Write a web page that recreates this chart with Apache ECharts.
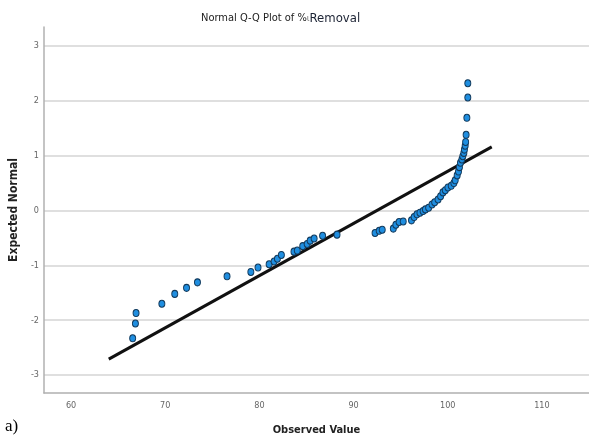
<!DOCTYPE html>
<html>
<head>
<meta charset="utf-8">
<script src="https://cdn.jsdelivr.net/npm/echarts@6/dist/echarts.min.js"></script>
<style>
html,body{margin:0;padding:0;background:#fff;}
#c{width:589px;height:441px;}
</style>
</head>
<body>
<div id="c"></div>
<script>
var observed = [66.54,66.83,66.90,69.64,71.01,72.26,73.42,76.56,79.09,79.85,81.03,81.56,81.91,82.33,83.67,84.02,84.60,85.07,85.39,85.81,86.71,88.24,
  92.28,92.72,93.04,94.22,94.49,94.83,95.27,96.15,96.43,96.73,97.05,97.38,97.63,97.97,98.33,98.61,98.97,99.24,99.49,99.74,100.02,100.37,100.65,100.79,
  101.00,101.14,101.24,101.35,101.50,101.60,101.71,101.77,101.85,101.90,101.95,102.03,102.13,102.13];
var expected = [-2.33,-2.06,-1.87,-1.70,-1.52,-1.41,-1.31,-1.20,-1.12,-1.04,-0.98,-0.93,-0.88,-0.81,-0.75,-0.73,-0.65,-0.61,-0.55,-0.51,-0.46,-0.44,
  -0.41,-0.37,-0.35,-0.33,-0.26,-0.21,-0.20,-0.18,-0.12,-0.07,-0.04,-0.01,0.02,0.05,0.11,0.15,0.20,0.26,0.33,0.37,0.42,0.45,0.50,0.55,
  0.64,0.71,0.79,0.87,0.93,0.99,1.05,1.11,1.18,1.25,1.38,1.69,2.06,2.32];
// Reference line end points
var lineX = [64.0, 104.67];
var lineY = [-2.71, 1.16];
// Tick labels
var xTicks = [60,70,80,90,100,110];
var yTicks = [-3,-2,-1,0,1,2,3];

var narrow = "'Liberation Sans Narrow','DejaVu Sans Condensed','Liberation Sans',sans-serif";
var points = observed.map(function(v,i){return [v, expected[i]];});
var linePts = lineX.map(function(v,i){return [v, lineY[i]];});

var chart = echarts.init(document.getElementById('c'), null, {renderer:'canvas'});
chart.setOption({
  animation:false,
  backgroundColor:'#ffffff',
  title:{
    text:'{a|Normal Q-Q Plot of %}{b|ι}{c|Removal}',
    left:196, top:7,
    textStyle:{
      fontWeight:'normal',
      rich:{
        a:{fontFamily:narrow, fontSize:11, fontWeight:'normal', color:'#222'},
        b:{fontFamily:narrow, fontSize:9, fontWeight:'normal', color:'#777'},
        c:{fontFamily:narrow, fontSize:13, fontWeight:'normal', color:'#1b2233'}
      }
    }
  },
  grid:{left:40, right:0, top:27, bottom:47},
  xAxis:{
    type:'value', min:57.12, max:115,
    name:'Observed Value', nameLocation:'middle', nameGap:32,
    nameTextStyle:{fontFamily:narrow, fontSize:11, fontWeight:'bold', color:'#222'},
    axisLine:{show:true, onZero:false, lineStyle:{color:'#b0b0b0', width:1.5}},
    axisTick:{show:false, customValues:xTicks},
    axisLabel:{customValues:xTicks, fontFamily:narrow, fontSize:9, color:'#666', margin:8},
    splitLine:{show:false}
  },
  yAxis:{
    type:'value', min:-3.327, max:3.345,
    name:'Expected Normal', nameLocation:'middle', nameGap:21, nameRotate:90,
    nameTextStyle:{fontFamily:narrow, fontSize:12, fontWeight:'bold', color:'#222'},
    axisLine:{show:true, onZero:false, lineStyle:{color:'#b0b0b0', width:1.5}},
    axisTick:{show:false, customValues:yTicks},
    axisLabel:{customValues:yTicks, fontFamily:narrow, fontSize:9, color:'#666', margin:5},
    splitLine:{show:true, lineStyle:{color:'#d4d4d4', width:1.5}}
  },
  series:[
    {type:'line', data:linePts, symbol:'none', silent:true,
     lineStyle:{color:'#111', width:3}, z:2},
    {type:'scatter', data:points, symbol:'circle', symbolSize:[6,7],
     itemStyle:{color:'#1f8ee0', borderColor:'#123a5c', borderWidth:1, opacity:1}, z:3}
  ],
  graphic:[
    {type:'text', left:5, top:418, style:{text:'a)', font:"17px 'Liberation Serif',serif", fill:'#000'}}
  ]
});
</script>
</body>
</html>
